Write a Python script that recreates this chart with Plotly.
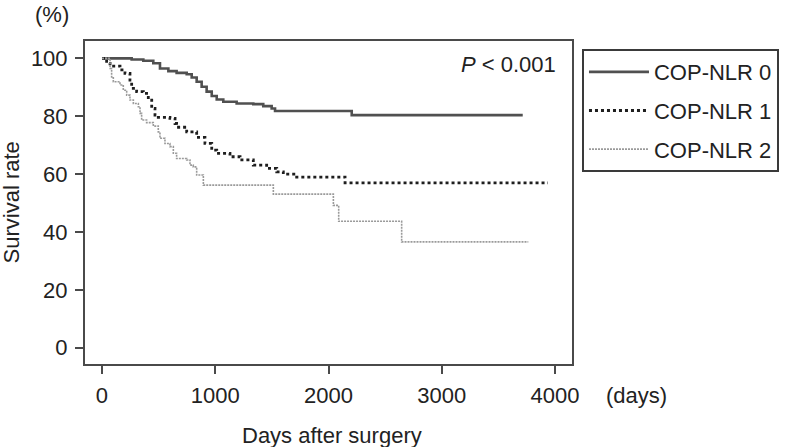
import plotly.graph_objects as go

# ---- data (days, survival %) ----
names = ["COP-NLR 0", "COP-NLR 1", "COP-NLR 2"]

days0 = [0, 159, 262, 365, 453, 512, 586, 659, 748, 792, 836, 880, 924, 969,
         1013, 1071, 1189, 1336, 1424, 1498, 1528, 2205, 3715]
surv0 = [100, 100, 99.6, 99.2, 98.3, 96.5, 95.6, 95.0, 94.5, 93.4, 91.9, 90.2,
         88.5, 87.0, 85.8, 85.0, 84.4, 84.2, 83.5, 82.7, 81.8, 80.4, 80.4]

days1 = [0, 30, 41, 71, 159, 203, 247, 262, 306, 365, 409, 439, 468, 497, 600,
         645, 659, 748, 836, 909, 969, 1013, 1130, 1219, 1336, 1454, 1543, 1601,
         1719, 2146, 3938]
surv1 = [100, 100, 98.3, 97.3, 96.0, 94.8, 92.5, 89.6, 88.5, 87.9, 85.6, 82.7,
         80.4, 79.6, 79.3, 77.5, 76.2, 74.6, 72.7, 70.6, 68.3, 67.2, 66.0, 64.9,
         63.1, 62.0, 60.8, 60.0, 59.0, 57.0, 57.0]

days2 = [0, 40, 71, 85, 100, 159, 188, 218, 247, 277, 321, 336, 350, 394, 453,
         497, 512, 556, 600, 630, 659, 748, 777, 806, 836, 895, 1513, 2043, 2090,
         2646, 3764]
surv2 = [100, 100, 96.5, 93.6, 91.9, 90.8, 89.0, 87.3, 85.6, 84.4, 83.3, 81.0,
         78.7, 77.8, 76.6, 74.6, 72.4, 70.6, 69.5, 67.2, 65.4, 64.9, 63.1, 62.5,
         59.7, 56.2, 53.1, 49.2, 43.7, 36.6, 36.6]

x_ticks = [0, 1000, 2000, 3000, 4000]
y_ticks = [0, 20, 40, 60, 80, 100]

FONT = "Liberation Sans, Arial, Helvetica, sans-serif"
TXT = "#222222"

fig = go.Figure()
fig.add_trace(go.Scatter(x=days0, y=surv0, mode="lines", name=names[0],
                         line=dict(shape="hv", color="#505050", width=2.6, dash="solid"),
                         legendgroup="g0"))
fig.add_trace(go.Scatter(x=days1, y=surv1, mode="lines", name=names[1],
                         line=dict(shape="hv", color="#1e1e1e", width=2.8, dash="3px,3px"),
                         legendgroup="g1"))
fig.add_trace(go.Scatter(x=days2, y=surv2, mode="lines", name=names[2],
                         line=dict(shape="hv", color="#9a9a9a", width=1.6, dash="2px,1px"),
                         legendgroup="g2"))

axis_common = dict(showline=True, linecolor="#4a4a4a", linewidth=2, mirror=True,
                   ticks="outside", ticklen=8, tickwidth=1.5, tickcolor="#4a4a4a",
                   showgrid=False, zeroline=False,
                   tickfont=dict(family=FONT, size=22, color=TXT))

fig.update_xaxes(range=[-150, 4150], tickvals=x_ticks, ticktext=[str(v) for v in x_ticks],
                 ticklabelstandoff=3, **axis_common)
fig.update_yaxes(range=[-5.6, 106.0], tickvals=y_ticks, ticktext=[str(v) for v in y_ticks],
                 ticklabelstandoff=3, **axis_common)

fig.update_layout(
    width=787, height=447,
    margin=dict(l=85, r=215, t=41, b=83, autoexpand=False),
    paper_bgcolor="white", plot_bgcolor="white",
    font=dict(family=FONT, size=22, color=TXT),
    showlegend=True,
    legend=dict(x=1.0205, y=0.975, xanchor="left", yanchor="top",
                bgcolor="white", bordercolor="#3a3a3a", borderwidth=2,
                font=dict(family=FONT, size=22, color=TXT),
                tracegroupgap=7, itemwidth=60),
    annotations=[
        dict(text="Survival rate", x=-0.150, y=0.50, xref="paper", yref="paper",
             textangle=-90, showarrow=False, xanchor="center", yanchor="middle",
             font=dict(family=FONT, size=22, color=TXT)),
        dict(text="Days after surgery", x=0.507, y=-0.220, xref="paper", yref="paper",
             showarrow=False, xanchor="center", yanchor="middle",
             font=dict(family=FONT, size=22, color=TXT)),
        dict(text="(days)", x=1.066, y=-0.096, xref="paper", yref="paper",
             showarrow=False, xanchor="left", yanchor="middle",
             font=dict(family=FONT, size=22, color=TXT)),
        dict(text="(%)", x=-0.068, y=1.0805, xref="paper", yref="paper",
             showarrow=False, xanchor="center", yanchor="middle",
             font=dict(family=FONT, size=22, color=TXT)),
        dict(text="<i>P</i> < 0.001", x=0.971, y=0.926, xref="paper", yref="paper",
             showarrow=False, xanchor="right", yanchor="middle",
             font=dict(family=FONT, size=22, color=TXT)),
    ],
)

# remove the browser's default 8px body margin so the figure sits at the page origin
fig.write_html("out.html",
               config={"displayModeBar": False},
               post_script="document.body.style.margin='0';document.body.style.overflow='hidden';")
